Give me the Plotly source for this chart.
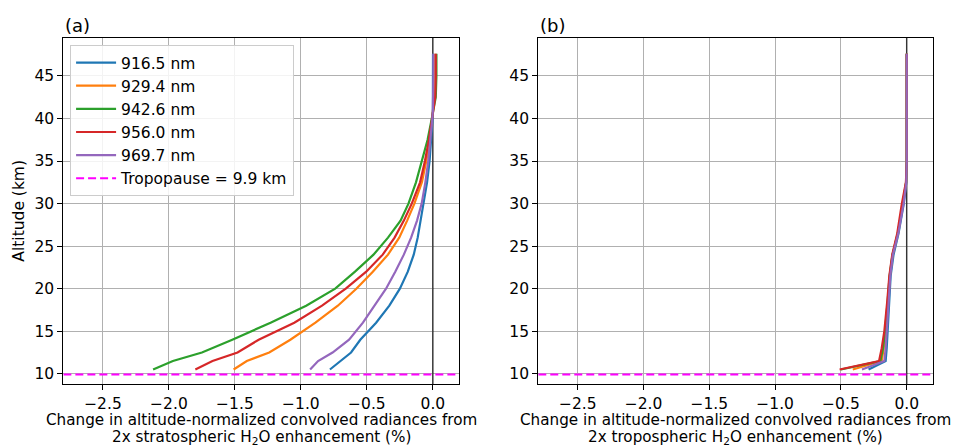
import plotly.graph_objects as go

# Altitude grids (km)
alt_strat = [10.5, 11.5, 12.5, 14, 16, 18, 20, 22, 24, 26, 28, 30, 32.5, 35, 37.5, 40, 41, 42.5, 45, 47.6]
alt_trop = [10.5, 11.5, 13, 15, 18.5, 21.5, 24, 26.5, 30, 32.5, 35, 40, 45, 47.6]

# (a) 2x stratospheric H2O enhancement, % change
strat_916 = [-0.78, -0.70, -0.62, -0.55, -0.43, -0.33, -0.25, -0.19, -0.145, -0.115, -0.093, -0.068, -0.044, -0.025, -0.012, -0.002, 0.0, 0.001, 0.001, 0.001]
strat_929 = [-1.51, -1.41, -1.24, -1.08, -0.89, -0.72, -0.58, -0.455, -0.34, -0.255, -0.195, -0.14, -0.083, -0.05, -0.025, -0.004, 0.002, 0.012, 0.014, 0.014]
strat_942 = [-2.12, -1.97, -1.75, -1.52, -1.23, -0.96, -0.74, -0.59, -0.45, -0.34, -0.245, -0.185, -0.128, -0.083, -0.04, -0.008, 0.003, 0.022, 0.027, 0.027]
strat_956 = [-1.80, -1.67, -1.48, -1.32, -1.05, -0.84, -0.66, -0.505, -0.38, -0.29, -0.22, -0.16, -0.097, -0.06, -0.03, -0.005, 0.003, 0.018, 0.022, 0.022]
strat_969 = [-0.93, -0.87, -0.76, -0.635, -0.53, -0.44, -0.355, -0.285, -0.22, -0.165, -0.12, -0.085, -0.057, -0.035, -0.018, -0.004, 0.0, 0.003, 0.004, 0.004]

# (b) 2x tropospheric H2O enhancement, % change
trop_916 = [-0.29, -0.16, -0.152, -0.145, -0.13, -0.122, -0.10, -0.062, -0.022, -0.003, 0.0, 0.0, 0.0, 0.0]
trop_929 = [-0.41, -0.19, -0.175, -0.16, -0.142, -0.128, -0.107, -0.067, -0.03, -0.004, 0.0, 0.0, 0.0, 0.0]
trop_942 = [-0.50, -0.20, -0.18, -0.165, -0.145, -0.13, -0.108, -0.068, -0.03, -0.005, 0.0, 0.0, 0.0, 0.0]
trop_956 = [-0.51, -0.21, -0.19, -0.17, -0.148, -0.132, -0.11, -0.072, -0.037, -0.006, 0.0, 0.0, 0.0, 0.0]
trop_969 = [-0.34, -0.17, -0.16, -0.15, -0.137, -0.125, -0.105, -0.064, -0.024, -0.003, 0.0, 0.0, 0.0, 0.0]

wavelength_labels = ["916.5 nm", "929.4 nm", "942.6 nm", "956.0 nm", "969.7 nm"]
line_colors = ["#1f77b4", "#ff7f0e", "#2ca02c", "#d62728", "#9467bd"]
tropopause_km = 9.9

x_ticks = [-2.5, -2.0, -1.5, -1.0, -0.5, 0.0]
y_ticks = [10, 15, 20, 25, 30, 35, 40, 45]
x_range = [-2.8, 0.2]
y_range = [8.8, 49.5]

FONT = "DejaVu Sans"
FS = 15.5
FS_XT = 15.2
fig = go.Figure()

strat_series = [strat_916, strat_929, strat_942, strat_956, strat_969]
trop_series = [trop_916, trop_929, trop_942, trop_956, trop_969]

panels = [("x", "y", strat_series, alt_strat, True),
          ("x2", "y2", trop_series, alt_trop, False)]

for xa, ya, series, alts, show in panels:
    # vertical zero reference line, drawn first so the curves sit on top
    fig.add_trace(go.Scatter(x=[0, 0], y=y_range, mode="lines",
                             line=dict(color="rgba(0,0,0,0.7)", width=1.5),
                             xaxis=xa, yaxis=ya, showlegend=False, hoverinfo="skip"))
    for name, color, vals in zip(wavelength_labels, line_colors, series):
        fig.add_trace(go.Scatter(x=vals, y=alts, mode="lines", name=name,
                                 line=dict(color=color, width=2.2),
                                 xaxis=xa, yaxis=ya, showlegend=show))
    fig.add_trace(go.Scatter(x=x_range, y=[tropopause_km, tropopause_km], mode="lines",
                             name=f"Tropopause = {tropopause_km} km",
                             line=dict(color="magenta", width=2, dash="8px,4px"),
                             xaxis=xa, yaxis=ya, showlegend=show))

axis_common = dict(
    showline=True, mirror=True, linecolor="black", linewidth=1.2,
    ticks="outside", ticklen=5, tickwidth=1.2, tickcolor="black",
    showgrid=True, gridcolor="#b0b0b0", gridwidth=1.2,
    zeroline=False, tickfont=dict(family=FONT, size=FS, color="black"),
    automargin=False,
)

fig.update_layout(
    width=960, height=448,
    margin=dict(l=0, r=0, t=0, b=0),
    paper_bgcolor="white", plot_bgcolor="white",
    font=dict(family=FONT, size=FS, color="black"),
    xaxis=dict(domain=[0.066, 0.4784], range=x_range, tickvals=x_ticks, tickformat=".1f",
               ticklabelstandoff=0, anchor="y", **axis_common),
    yaxis=dict(domain=[0.1429, 0.9159], range=y_range, tickvals=y_ticks,
               title=dict(text="Altitude (km)", font=dict(size=FS), standoff=6),
               anchor="x", **axis_common),
    xaxis2=dict(domain=[0.5607, 0.9719], range=x_range, tickvals=x_ticks, tickformat=".1f",
                ticklabelstandoff=0, anchor="y2", **axis_common),
    yaxis2=dict(domain=[0.1429, 0.9159], range=y_range, tickvals=y_ticks,
                anchor="x2", **axis_common),
    legend=dict(x=0.073, y=0.8996, xanchor="left", yanchor="top",
                bgcolor="rgba(255,255,255,0.85)", bordercolor="#cccccc", borderwidth=1,
                font=dict(family=FONT, size=FS), tracegroupgap=0, itemwidth=40),
    showlegend=True,
)

# Two-line x-axis titles, one annotation per line
x_title_lines = {
    "x": ["Change in altitude-normalized convolved radiances from",
          "2x stratospheric H<sub>2</sub>O enhancement (%)"],
    "x2": ["Change in altitude-normalized convolved radiances from",
           "2x tropospheric H<sub>2</sub>O enhancement (%)"],
}
centers = {"x": (0.066 + 0.4784) / 2, "x2": (0.5607 + 0.9719) / 2}
for xa, lines in x_title_lines.items():
    for text, ypix in zip(lines, [419.5, 437.5]):
        fig.add_annotation(text=text, xref="paper", yref="paper", x=centers[xa],
                           y=1 - ypix / 448, xanchor="center", yanchor="middle",
                           showarrow=False, borderpad=0,
                           font=dict(family=FONT, size=FS_XT, color="black"))

# Panel labels
for label, xpos in [("(a)", 0.066), ("(b)", 0.5607)]:
    fig.add_annotation(text=label, xref="paper", yref="paper", x=xpos, y=0.944,
                       xanchor="left", yanchor="middle", showarrow=False,
                       font=dict(family=FONT, size=18, color="black"))

fig.write_html("out.html")
